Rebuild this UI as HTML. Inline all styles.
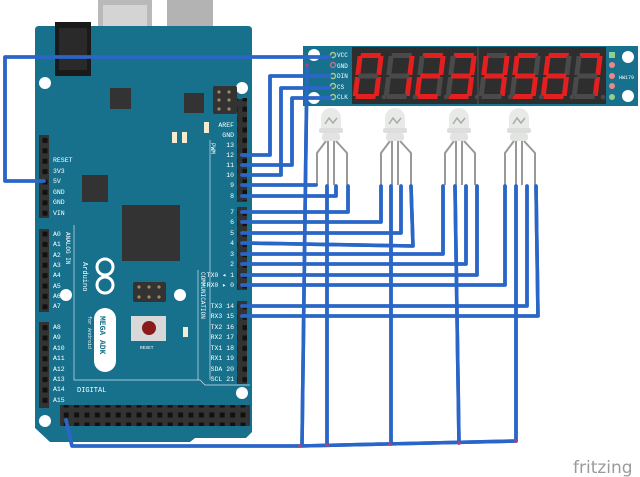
<!DOCTYPE html>
<html><head><meta charset="utf-8"><style>
html,body{margin:0;padding:0;background:#fff;}
svg{display:block;}
.l{font-family:"Liberation Mono",monospace;font-size:6.5px;fill:#fff;}
</style></head><body>
<svg width="640" height="477" viewBox="0 0 640 477" xmlns="http://www.w3.org/2000/svg">
<defs>
<pattern id="pv" x="0" y="0" width="10" height="10.4" patternUnits="userSpaceOnUse">
<rect x="2.5" y="2.7" width="5" height="5" fill="#111"/></pattern>
<pattern id="ph" x="61" y="0" width="10.4" height="10" patternUnits="userSpaceOnUse">
<rect x="2.7" y="2.5" width="5" height="5" fill="#111"/></pattern>
</defs>

<rect x="98" y="0" width="54" height="56" fill="#b9b9b9"/>
<rect x="103" y="5" width="44" height="32" fill="#d4d4d4"/>
<rect x="167" y="0" width="46" height="63" fill="#b3b3b3"/>
<rect x="161" y="32" width="58" height="6" fill="#a8a8a8"/>

<path d="M39 26 H248 Q252 26 252 30 V432 L246 438 H195 L190 442 H50 L35 428 V30 Q35 26 39 26 Z" fill="#17718d"/>
<rect x="55" y="22" width="36" height="54" fill="#1a1a1a"/>
<rect x="59" y="28" width="28" height="42" fill="#2a2a2a"/>
<circle cx="45" cy="83" r="6" fill="#fff"/><circle cx="242" cy="88" r="6" fill="#fff"/>
<circle cx="66" cy="295" r="6" fill="#fff"/><circle cx="180" cy="295" r="6" fill="#fff"/>
<circle cx="242" cy="393" r="6" fill="#fff"/><circle cx="45" cy="421" r="6" fill="#fff"/>
<rect x="110" y="88" width="21" height="21" fill="#333"/>
<rect x="184" y="93" width="20" height="20" fill="#333"/>
<rect x="82" y="175" width="26" height="27" fill="#333"/>
<rect x="122" y="205" width="58" height="56" fill="#333"/>
<rect x="213" y="86" width="24" height="28" fill="#333" rx="2"/>
<g fill="#a08a60"><circle cx="219" cy="92" r="1.6"/><circle cx="229" cy="92" r="1.6"/><circle cx="219" cy="100" r="1.6"/><circle cx="229" cy="100" r="1.6"/><circle cx="219" cy="109" r="1.6"/><circle cx="229" cy="109" r="1.6"/></g>
<rect x="133" y="282" width="33" height="20" fill="#333" rx="2"/>
<g fill="#a08a60"><circle cx="139" cy="287" r="1.6"/><circle cx="149" cy="287" r="1.6"/><circle cx="159" cy="287" r="1.6"/><circle cx="139" cy="297" r="1.6"/><circle cx="149" cy="297" r="1.6"/><circle cx="159" cy="297" r="1.6"/></g>
<rect x="172" y="132" width="5" height="11" fill="#f3ecd0"/><rect x="182" y="132" width="5" height="11" fill="#f3ecd0"/>
<rect x="204" y="122" width="5" height="11" fill="#f3ecd0"/><rect x="183" y="327" width="5" height="10" fill="#f3ecd0"/>
<rect x="131" y="316" width="35" height="25" fill="#d8d8d8"/>
<circle cx="149" cy="328" r="7" fill="#8b1a1a"/>
<rect x="94" y="308" width="22" height="64" rx="11" fill="#fff"/>
<text class="l" transform="translate(100,316) rotate(90)" style="fill:#17718d;font-size:8px;font-weight:bold">MEGA ADK</text>
<circle cx="105" cy="267" r="8" fill="none" stroke="#fff" stroke-width="3"/>
<circle cx="105" cy="285" r="8" fill="none" stroke="#fff" stroke-width="3"/>
<text class="l" transform="translate(83,262) rotate(90)" style="font-size:7px">Arduino</text>
<text class="l" transform="translate(88,316) rotate(90)" style="font-size:5px">for Android</text>
<text class="l" transform="translate(66,232) rotate(90)" style="font-size:6px">ANALOG IN</text>
<text class="l" transform="translate(201,272) rotate(90)" style="font-size:6px">COMMUNICATION</text>
<text class="l" transform="translate(211,143) rotate(90)" style="font-size:6px">PWM</text>
<text class="l" x="77" y="392" style="font-size:7px">DIGITAL</text>
<text class="l" x="140" y="349" style="font-size:4.5px">RESET</text>
<path d="M74 225 V380 H200 L205 385 H250 M210 140 V380 M198 270 V380" stroke="#cfe3ea" stroke-width="0.7" fill="none"/>

<rect x="39" y="135" width="10" height="83" fill="#333" /><rect x="39" y="135" width="10" height="83" fill="url(#pv)"/>
<rect x="39" y="229" width="10" height="83" fill="#333" /><rect x="39" y="229" width="10" height="83" fill="url(#pv)"/>
<rect x="39" y="322" width="10" height="86" fill="#333" /><rect x="39" y="322" width="10" height="86" fill="url(#pv)"/>
<rect x="237" y="99" width="10" height="103" fill="#333" /><rect x="237" y="98" width="10" height="103" fill="url(#pv)"/>
<rect x="237" y="207" width="10" height="83" fill="#333" /><rect x="237" y="207" width="10" height="83" fill="url(#pv)"/>
<rect x="237" y="301" width="10" height="83" fill="#333" /><rect x="237" y="301" width="10" height="83" fill="url(#pv)"/>
<rect x="60" y="405" width="190" height="21" fill="#333"/><rect x="60" y="405" width="190" height="21" fill="url(#ph)"/>

<g class="l">
<text x="53" y="162">RESET</text><text x="53" y="173">3V3</text><text x="53" y="183">5V</text><text x="53" y="194">GND</text><text x="53" y="204">GND</text><text x="53" y="215">VIN</text>
<text x="53" y="236">A0</text><text x="53" y="246">A1</text><text x="53" y="257">A2</text><text x="53" y="267">A3</text><text x="53" y="277">A4</text><text x="53" y="288">A5</text><text x="53" y="298">A6</text><text x="53" y="308">A7</text>
<text x="53" y="329">A8</text><text x="53" y="339">A9</text><text x="53" y="350">A10</text><text x="53" y="360">A11</text><text x="53" y="371">A12</text><text x="53" y="381">A13</text><text x="53" y="391">A14</text><text x="53" y="402">A15</text>
<g text-anchor="end">
<text x="234" y="127">AREF</text><text x="234" y="137">GND</text><text x="234" y="147">13</text><text x="234" y="157">12</text><text x="234" y="167">11</text><text x="234" y="177">10</text><text x="234" y="187">9</text><text x="234" y="198">8</text>
<text x="234" y="214">7</text><text x="234" y="224">6</text><text x="234" y="235">5</text><text x="234" y="245">4</text><text x="234" y="256">3</text><text x="234" y="266">2</text><text x="234" y="277">TX0 ◂ 1</text><text x="234" y="287">RX0 ▸ 0</text>
<text x="234" y="308">TX3 14</text><text x="234" y="318">RX3 15</text><text x="234" y="329">TX2 16</text><text x="234" y="339">RX2 17</text><text x="234" y="350">TX1 18</text><text x="234" y="360">RX1 19</text><text x="234" y="371">SDA 20</text><text x="234" y="381">SCL 21</text>
</g></g>

<rect x="303" y="46" width="335" height="60" fill="#17718d"/>
<circle cx="314" cy="55" r="6" fill="#fff"/><circle cx="314" cy="98" r="6" fill="#fff"/>
<circle cx="628" cy="57" r="6" fill="#fff"/><circle cx="628" cy="96" r="6" fill="#fff"/>
<rect x="352" y="47" width="254" height="57" fill="#2e2e2e"/>
<line x1="478" y1="47" x2="478" y2="104" stroke="#555" stroke-width="1"/>
<g class="l" style="font-size:6px"><text x="337" y="57">VCC</text><text x="337" y="68">GND</text><text x="337" y="78">DIN</text><text x="337" y="89">CS</text><text x="337" y="99">CLK</text><text x="619" y="79" style="font-size:5px">HW179</text></g>
<g fill="none" stroke-width="1.5"><circle cx="333" cy="55" r="2.5" stroke="#a8c890"/><circle cx="333" cy="65" r="2.5" stroke="#b87090"/><circle cx="333" cy="76" r="2.5" stroke="#a8c890"/><circle cx="333" cy="86" r="2.5" stroke="#a8c890"/><circle cx="333" cy="97" r="2.5" stroke="#a8c890"/></g>
<rect x="609" y="52" width="6" height="6" fill="#8fd08f"/>
<circle cx="612" cy="65" r="3" fill="#e88"/><circle cx="612" cy="76" r="3" fill="#e88"/><circle cx="612" cy="86" r="3" fill="#e88"/><circle cx="612" cy="97" r="3" fill="#8fd08f"/>

<g>
<g transform="translate(358,53) skewX(-7)" style="--a:#e3201f;--b:#e3201f;--c2:#e3201f;--d:#e3201f;--e:#e3201f;--f:#e3201f">
<rect x="3" y="0" width="20" height="5" fill="var(--a,#4a4a4a)"/><rect x="21" y="3" width="5" height="19" fill="var(--b,#4a4a4a)"/><rect x="21" y="24" width="5" height="19" fill="var(--c2,#4a4a4a)"/><rect x="3" y="41" width="20" height="5" fill="var(--d,#4a4a4a)"/><rect x="0" y="24" width="5" height="19" fill="var(--e,#4a4a4a)"/><rect x="0" y="3" width="5" height="19" fill="var(--f,#4a4a4a)"/><rect x="3" y="20.5" width="20" height="5" fill="var(--g,#4a4a4a)"/></g>
<g transform="translate(389,53) skewX(-7)" style="--b:#e3201f;--c2:#e3201f">
<rect x="3" y="0" width="20" height="5" fill="var(--a,#4a4a4a)"/><rect x="21" y="3" width="5" height="19" fill="var(--b,#4a4a4a)"/><rect x="21" y="24" width="5" height="19" fill="var(--c2,#4a4a4a)"/><rect x="3" y="41" width="20" height="5" fill="var(--d,#4a4a4a)"/><rect x="0" y="24" width="5" height="19" fill="var(--e,#4a4a4a)"/><rect x="0" y="3" width="5" height="19" fill="var(--f,#4a4a4a)"/><rect x="3" y="20.5" width="20" height="5" fill="var(--g,#4a4a4a)"/></g>
<g transform="translate(420,53) skewX(-7)" style="--a:#e3201f;--b:#e3201f;--g:#e3201f;--e:#e3201f;--d:#e3201f">
<rect x="3" y="0" width="20" height="5" fill="var(--a,#4a4a4a)"/><rect x="21" y="3" width="5" height="19" fill="var(--b,#4a4a4a)"/><rect x="21" y="24" width="5" height="19" fill="var(--c2,#4a4a4a)"/><rect x="3" y="41" width="20" height="5" fill="var(--d,#4a4a4a)"/><rect x="0" y="24" width="5" height="19" fill="var(--e,#4a4a4a)"/><rect x="0" y="3" width="5" height="19" fill="var(--f,#4a4a4a)"/><rect x="3" y="20.5" width="20" height="5" fill="var(--g,#4a4a4a)"/></g>
<g transform="translate(451,53) skewX(-7)" style="--a:#e3201f;--b:#e3201f;--g:#e3201f;--c2:#e3201f;--d:#e3201f">
<rect x="3" y="0" width="20" height="5" fill="var(--a,#4a4a4a)"/><rect x="21" y="3" width="5" height="19" fill="var(--b,#4a4a4a)"/><rect x="21" y="24" width="5" height="19" fill="var(--c2,#4a4a4a)"/><rect x="3" y="41" width="20" height="5" fill="var(--d,#4a4a4a)"/><rect x="0" y="24" width="5" height="19" fill="var(--e,#4a4a4a)"/><rect x="0" y="3" width="5" height="19" fill="var(--f,#4a4a4a)"/><rect x="3" y="20.5" width="20" height="5" fill="var(--g,#4a4a4a)"/></g>
<g transform="translate(484,53) skewX(-7)" style="--f:#e3201f;--g:#e3201f;--b:#e3201f;--c2:#e3201f">
<rect x="3" y="0" width="20" height="5" fill="var(--a,#4a4a4a)"/><rect x="21" y="3" width="5" height="19" fill="var(--b,#4a4a4a)"/><rect x="21" y="24" width="5" height="19" fill="var(--c2,#4a4a4a)"/><rect x="3" y="41" width="20" height="5" fill="var(--d,#4a4a4a)"/><rect x="0" y="24" width="5" height="19" fill="var(--e,#4a4a4a)"/><rect x="0" y="3" width="5" height="19" fill="var(--f,#4a4a4a)"/><rect x="3" y="20.5" width="20" height="5" fill="var(--g,#4a4a4a)"/></g>
<g transform="translate(515,53) skewX(-7)" style="--a:#e3201f;--f:#e3201f;--g:#e3201f;--c2:#e3201f;--d:#e3201f">
<rect x="3" y="0" width="20" height="5" fill="var(--a,#4a4a4a)"/><rect x="21" y="3" width="5" height="19" fill="var(--b,#4a4a4a)"/><rect x="21" y="24" width="5" height="19" fill="var(--c2,#4a4a4a)"/><rect x="3" y="41" width="20" height="5" fill="var(--d,#4a4a4a)"/><rect x="0" y="24" width="5" height="19" fill="var(--e,#4a4a4a)"/><rect x="0" y="3" width="5" height="19" fill="var(--f,#4a4a4a)"/><rect x="3" y="20.5" width="20" height="5" fill="var(--g,#4a4a4a)"/></g>
<g transform="translate(546,53) skewX(-7)" style="--a:#e3201f;--f:#e3201f;--g:#e3201f;--e:#e3201f;--c2:#e3201f;--d:#e3201f">
<rect x="3" y="0" width="20" height="5" fill="var(--a,#4a4a4a)"/><rect x="21" y="3" width="5" height="19" fill="var(--b,#4a4a4a)"/><rect x="21" y="24" width="5" height="19" fill="var(--c2,#4a4a4a)"/><rect x="3" y="41" width="20" height="5" fill="var(--d,#4a4a4a)"/><rect x="0" y="24" width="5" height="19" fill="var(--e,#4a4a4a)"/><rect x="0" y="3" width="5" height="19" fill="var(--f,#4a4a4a)"/><rect x="3" y="20.5" width="20" height="5" fill="var(--g,#4a4a4a)"/></g>
<g transform="translate(577,53) skewX(-7)" style="--a:#e3201f;--b:#e3201f;--c2:#e3201f">
<rect x="3" y="0" width="20" height="5" fill="var(--a,#4a4a4a)"/><rect x="21" y="3" width="5" height="19" fill="var(--b,#4a4a4a)"/><rect x="21" y="24" width="5" height="19" fill="var(--c2,#4a4a4a)"/><rect x="3" y="41" width="20" height="5" fill="var(--d,#4a4a4a)"/><rect x="0" y="24" width="5" height="19" fill="var(--e,#4a4a4a)"/><rect x="0" y="3" width="5" height="19" fill="var(--f,#4a4a4a)"/><rect x="3" y="20.5" width="20" height="5" fill="var(--g,#4a4a4a)"/></g>
<g fill="#4a4a4a"><circle cx="384" cy="97" r="2.3"/><circle cx="415" cy="97" r="2.3"/><circle cx="446" cy="97" r="2.3"/><circle cx="477" cy="97" r="2.3"/><circle cx="510" cy="97" r="2.3"/><circle cx="541" cy="97" r="2.3"/><circle cx="572" cy="97" r="2.3"/><circle cx="603" cy="97" r="2.3"/></g>
</g>

<g id="led">
<path d="M326 141 L317 153 V185 M328 141 V185 M334 141 V185 M336 141 L347 153 V185" stroke="#999" stroke-width="2" fill="none"/>
<path d="M321 128 V118 A10 10 0 0 1 341 118 V128 Z" fill="#e8eae8"/>
<rect x="319" y="128" width="24" height="5" rx="2" fill="#ddd"/>
<rect x="322" y="133" width="18" height="8" rx="3" fill="#e2e4e2"/>
<path d="M325 124 L329 118 L333 123 L337 118" stroke="#aaa" stroke-width="1.5" fill="none"/>
</g>
<use href="#led" x="64"/><use href="#led" x="128"/><use href="#led" x="188"/>

<g id="w" fill="none" stroke="#2a66c8" stroke-width="3.6" stroke-linejoin="round" stroke-linecap="round">
<path d="M44 181 H5 V57 H330"/>
<path d="M307 65 L302 445"/>
<path d="M242 155 H270 V76 H330"/>
<path d="M242 165 H292 V98 H330"/>
<path d="M242 175 H281 V88 H330"/>
<path d="M242 185 H316"/>
<path d="M242 196 H336 V186"/>
<path d="M242 212 H348 V186"/>
<path d="M327 186 V445"/>
<path d="M242 222 H381 V186"/>
<path d="M242 233 H401 V186"/>
<path d="M242 243 L413 246 L411 186"/>
<path d="M391 186 V444"/>
<path d="M242 254 H443 V186"/>
<path d="M242 264 H466 V186"/>
<path d="M242 275 H477 V186"/>
<path d="M455 186 L459 443"/>
<path d="M242 285 H505 V186"/>
<path d="M242 306 H527 V186"/>
<path d="M242 316 H538 L536 186"/>
<path d="M516 186 V441"/>
<path d="M66 420 L72 446 H300 L516 441"/>
</g>
<use href="#w" style="stroke:#5595ea;stroke-width:1.6"/>
<g fill="#b0407a"><circle cx="300" cy="446" r="1.8"/><circle cx="327" cy="445" r="1.8"/><circle cx="390" cy="444" r="1.8"/><circle cx="459" cy="443" r="1.8"/><circle cx="516" cy="441" r="1.8"/><circle cx="307" cy="65" r="1.8"/></g>

<text x="573" y="473" style="font-family:'DejaVu Sans','Liberation Sans',sans-serif;font-size:17px;fill:#9a9a9a">fritzing</text>
</svg>
</body></html>
